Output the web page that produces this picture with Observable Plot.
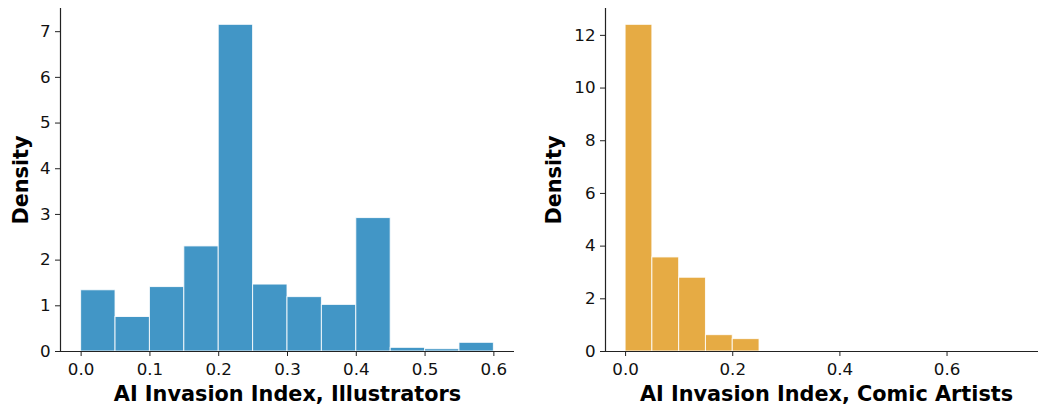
<!DOCTYPE html>
<html>
<head>
<meta charset="utf-8">
<script src="https://cdn.jsdelivr.net/npm/d3@7"></script>
<script src="https://cdn.jsdelivr.net/npm/@observablehq/plot@0.6"></script>
<style>
  html, body { margin: 0; padding: 0; background: #fff; }
  body { width: 1038px; height: 409px; overflow: hidden; position: relative; font-family: "DejaVu Sans", sans-serif; }
  #left { position: absolute; left: 0; top: 0; width: 520px; }
  #right { position: absolute; left: 520px; top: 0; width: 527px; }
  svg { overflow: visible; max-width: none !important; }
</style>
</head>
<body>
<div id="left"></div>
<div id="right"></div>
<script>
// ---- data ----
const binWidth = 0.05;
const illustratorBinStarts = [0, 0.05, 0.10, 0.15, 0.20, 0.25, 0.30, 0.35, 0.40, 0.45, 0.50, 0.55];
const illustratorDensity   = [1.34, 0.755, 1.41, 2.30, 7.15, 1.465, 1.19, 1.02, 2.92, 0.08, 0.05, 0.19];
const comicBinStarts = [0, 0.05, 0.10, 0.15, 0.20, 0.25, 0.30, 0.35, 0.40, 0.45, 0.50, 0.55, 0.60, 0.65, 0.70];
const comicDensity   = [12.40, 3.57, 2.80, 0.62, 0.47, 0, 0, 0, 0, 0, 0, 0, 0, 0, 0];
const illustratorXTicks = [0, 0.1, 0.2, 0.3, 0.4, 0.5, 0.6];
const illustratorYTicks = [0, 1, 2, 3, 4, 5, 6, 7];
const comicXTicks = [0, 0.2, 0.4, 0.6];
const comicYTicks = [0, 2, 4, 6, 8, 10, 12];
const illustratorLabel = "AI Invasion Index, Illustrators";
const comicLabel = "AI Invasion Index, Comic Artists";
const yLabel = "Density";

function histogram({starts, dens, xTicks, yTicks, xLabel, color, width, marginLeft, marginRight, yLabelDx}) {
  const data = starts.map((s, i) => ({x1: s, x2: s + binWidth, y: dens[i]}));
  const lo = d3.min(data, d => d.x1), hi = d3.max(data, d => d.x2);
  const pad = 0.05 * (hi - lo);
  const ymax = d3.max(data, d => d.y) * 1.05;
  return Plot.plot({
    width, height: 409,
    marginLeft, marginRight, marginTop: 8, marginBottom: 58,
    style: {fontFamily: "DejaVu Sans, sans-serif", fontSize: "16.7px", color: "#111", background: "white", maxWidth: "none"},
    x: {domain: [lo - pad, hi + pad], ticks: xTicks, tickFormat: d3.format(".1f"), label: null},
    y: {domain: [0, ymax], ticks: yTicks, tickFormat: d3.format("d"), label: null},
    marks: [
      Plot.rectY(data.filter(d => d.y > 0), {x1: "x1", x2: "x2", y: "y", fill: color, stroke: "#ffffff", strokeWidth: 1, strokeOpacity: 0.85, inset: 0}),
      Plot.axisX({ticks: xTicks, tickFormat: d3.format(".1f"), tickSize: 5, tickPadding: 7, stroke: "#222", label: null}),
      Plot.axisY({ticks: yTicks, tickFormat: d3.format("d"), tickSize: 5, tickPadding: 5, stroke: "#222", label: null}),
      Plot.ruleY([0], {stroke: "#222", strokeWidth: 1.2}),
      Plot.ruleX([lo - pad], {stroke: "#222", strokeWidth: 1.2}),
      Plot.text([xLabel], {frameAnchor: "bottom", dy: 43, lineAnchor: "middle", textAnchor: "middle", text: d => d, fontWeight: "bold", fontSize: 20.8, fill: "#000"}),
      Plot.text([yLabel], {frameAnchor: "left", dx: yLabelDx, lineAnchor: "middle", textAnchor: "middle", rotate: -90, text: d => d, fontWeight: "bold", fontSize: 20.8, fill: "#000"})
    ]
  });
}

document.getElementById("left").append(histogram({
  starts: illustratorBinStarts, dens: illustratorDensity,
  xTicks: illustratorXTicks, yTicks: illustratorYTicks, xLabel: illustratorLabel,
  color: "#4296c6", width: 520, marginLeft: 60, marginRight: 6, yLabelDx: -39
}));
document.getElementById("right").append(histogram({
  starts: comicBinStarts, dens: comicDensity,
  xTicks: comicXTicks, yTicks: comicYTicks, xLabel: comicLabel,
  color: "#e6ab44", width: 527, marginLeft: 85, marginRight: 0, yLabelDx: -51
}));
</script>
</body>
</html>
